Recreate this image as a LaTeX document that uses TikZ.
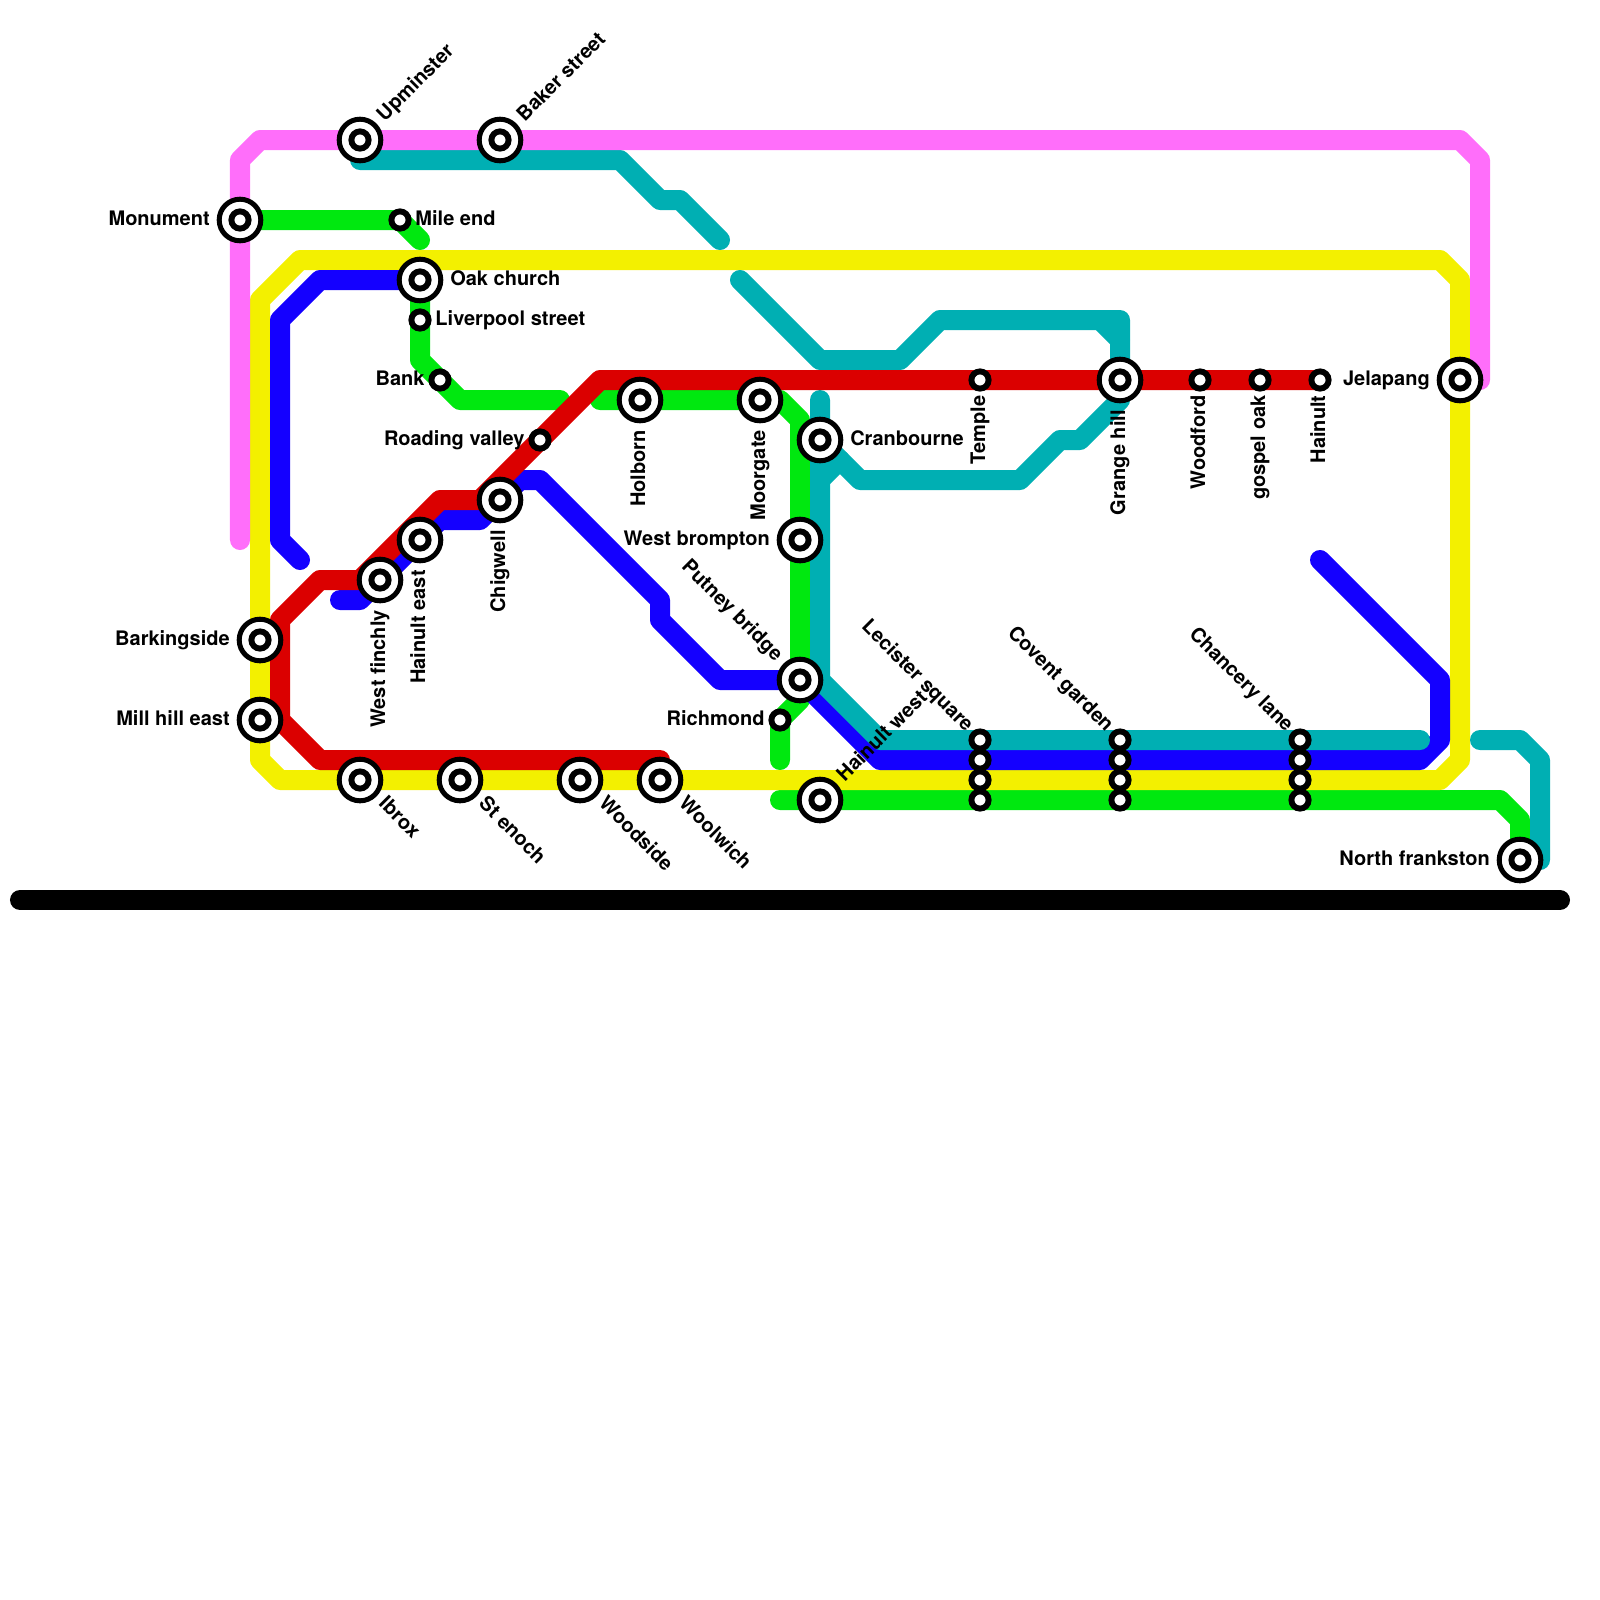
\documentclass[tikz,border=0pt]{standalone}
\usepackage{fontspec}
\setmainfont{TeX Gyre Heros}
\usepackage{xcolor}
\usepackage{tikz}
\usetikzlibrary{backgrounds}
\definecolor{linepink}{HTML}{FF6EFA}
\definecolor{lineteal}{HTML}{00AFB3}
\definecolor{linegreen}{HTML}{00E80F}
\definecolor{lineyellow}{HTML}{F3F000}
\definecolor{lineblue}{HTML}{1400FF}
\definecolor{linered}{HTML}{DB0000}

\begin{document}
\begin{tikzpicture}[
  x=0.5cm, y=-0.5cm,
  metro/.style={line width=14.23pt, line cap=round, line join=round},
  hub/.style={circle, draw=black, fill=white, line width=3.56pt, minimum size=1.04cm, inner sep=0pt},
  stn/.style={circle, draw=black, fill=white, line width=4.2pt, minimum size=0.43cm, inner sep=0pt},
  lbl/.style={inner sep=0pt, font=\fontsize{14.23}{17}\selectfont\bfseries},
  from/.style 2 args={anchor=base west, rotate=#1, xshift=#2, yshift=-0.125cm},
  upto/.style 2 args={anchor=base east, rotate=#1, xshift=-#2, yshift=-0.125cm}
]
  \useasboundingbox (0,0) rectangle (80,80);
  % interchange stations
  \foreach \nm/\x/\y in {upminster/18/7, baker/25/7, monument/12/11, oak/21/14, holborn/32/20,
      moorgate/38/20, cranbourne/41/22, chigwell/25/25, hainulteast/21/27, brompton/40/27,
      finchly/19/29, barkingside/13/32, putney/40/34, millhill/13/36, ibrox/18/39, enoch/23/39,
      woodside/29/39, woolwich/33/39, hainultwest/41/40, grange/56/19, jelapang/73/19, frankston/76/43} {
    \node[hub] (\nm) at (\x,\y) {};
    \node[stn] (\nm c) at (\x,\y) {};
  }
  % plain stations
  \foreach \nm/\x/\y in {mileend/20/11, liverpool/21/16, bank/22/19, roading/27/22, richmond/39/36,
      temple/49/19, woodford/60/19, gospel/63/19, hainult/66/19} {
    \node[stn] (\nm) at (\x,\y) {};
  }
  \foreach \x/\nm in {49/lecister, 56/covent, 65/chancery} {
    \foreach \y/\ln in {37/a, 38/b, 39/c, 40/d} {
      \node[stn] (\nm\ln) at (\x,\y) {};
    }
  }

  \begin{scope}[on background layer]
    \draw[metro, linegreen] (monument.center) -- (mileend.center) -- (21,12);
    \draw[metro, linegreen] (oak.center) -- (21,18) -- (23,20) -- (28,20);
    \draw[metro, linegreen] (30,20) -- (39,20) -- (40,21) -- (40,35) -- (39,36) -- (39,38);
    \draw[metro, linegreen] (39,40) -- (75,40) -- (76,41) -- (frankston.center);
    \draw[metro, lineyellow] (15,13) -- (72,13) -- (73,14) -- (73,38) -- (72,39) -- (14,39) -- (13,38) -- (13,15) -- cycle;
    \draw[metro, lineblue] (15,28) -- (14,27) -- (14,16) -- (16,14) -- (oak.center);
    \draw[metro, lineblue] (17,30) -- (18,30) -- (22,26) -- (24,26) -- (26,24) -- (27,24) -- (33,30) -- (33,31)
      -- (36,34) -- (putney.center) -- (44,38) -- (71,38) -- (72,37) -- (72,34) -- (66,28);
    \draw[metro, lineteal] (18,8) -- (31,8) -- (33,10) -- (34,10) -- (36,12);
    \draw[metro, lineteal] (37,14) -- (41,18) -- (45,18) -- (47,16) -- (56,16) -- (grange.center)
      -- (56,20) -- (54,22) -- (53,22) -- (51,24) -- (43,24) -- (cranbourne.center);
    \draw[metro, lineteal] (55,16) -- (56,17);
    \draw[metro, lineteal] (41,20) -- (41,34) -- (44,37) -- (71,37);
    \draw[metro, lineteal] (42,23) -- (41,24);
    \draw[metro, lineteal] (74,37) -- (76,37) -- (77,38) -- (77,43);
    \draw[metro, linered] (hainult.center) -- (30,19) -- (24,25) -- (22,25) -- (18,29) -- (16,29) -- (14,31)
      -- (14,36) -- (16,38) -- (33,38);
    \draw[metro, linepink] (12,27) -- (12,8) -- (13,7) -- (73,7) -- (74,8) -- (74,19);
    \draw[metro, black] (1,45) -- (78,45);
  \end{scope}

  % labels
  \node[lbl, from={45}{0.75cm}] (upminsterl) at (upminster) {Upminster};
  \node[lbl, from={45}{0.75cm}] (bakerl) at (baker) {Baker street};
  \node[lbl, upto={0}{0.75cm}] (monumentl) at (monument) {Monument};
  \node[lbl, from={0}{0.38cm}] (mileendl) at (mileend) {Mile end};
  \node[lbl, from={0}{0.75cm}] (oakl) at (oak) {Oak church};
  \node[lbl, from={0}{0.38cm}] (liverpooll) at (liverpool) {Liverpool street};
  \node[lbl, upto={0}{0.38cm}] (bankl) at (bank) {Bank};
  \node[lbl, upto={0}{0.38cm}] (roadingl) at (roading) {Roading valley};
  \node[lbl, upto={90}{0.75cm}] (holbornl) at (holborn) {Holborn};
  \node[lbl, upto={90}{0.75cm}] (moorgatel) at (moorgate) {Moorgate};
  \node[lbl, from={0}{0.75cm}] (cranbournel) at (cranbourne) {Cranbourne};
  \node[lbl, upto={90}{0.38cm}] (templel) at (temple) {Temple};
  \node[lbl, upto={90}{0.75cm}] (grangel) at (grange) {Grange hill};
  \node[lbl, upto={90}{0.38cm}] (woodfordl) at (woodford) {Woodford};
  \node[lbl, upto={90}{0.38cm}] (gospell) at (gospel) {gospel oak};
  \node[lbl, upto={90}{0.38cm}] (hainultl) at (hainult) {Hainult};
  \node[lbl, upto={0}{0.75cm}] (jelapangl) at (jelapang) {Jelapang};
  \node[lbl, upto={90}{0.75cm}] (chigwelll) at (chigwell) {Chigwell};
  \node[lbl, upto={90}{0.75cm}] (hainulteastl) at (hainulteast) {Hainult east};
  \node[lbl, upto={90}{0.75cm}] (finchlyl) at (finchly) {West finchly};
  \node[lbl, upto={0}{0.75cm}] (bromptonl) at (brompton) {West brompton};
  \node[lbl, upto={-45}{0.75cm}] (putneyl) at (putney) {Putney bridge};
  \node[lbl, upto={0}{0.38cm}] (richmondl) at (richmond) {Richmond};
  \node[lbl, upto={0}{0.75cm}] (barkingsidel) at (barkingside) {Barkingside};
  \node[lbl, upto={0}{0.75cm}] (millhilll) at (millhill) {Mill hill east};
  \node[lbl, from={-45}{0.75cm}] (ibroxl) at (ibrox) {Ibrox};
  \node[lbl, from={-45}{0.75cm}] (enochl) at (enoch) {St enoch};
  \node[lbl, from={-45}{0.75cm}] (woodsidel) at (woodside) {Woodside};
  \node[lbl, from={-45}{0.75cm}] (woolwichl) at (woolwich) {Woolwich};
  \node[lbl, from={45}{0.75cm}] (hainultwestl) at (hainultwest) {Hainult west};
  \node[lbl, upto={-45}{0.38cm}] (lecisterl) at (lecistera) {Lecister square};
  \node[lbl, upto={-45}{0.38cm}] (coventl) at (coventa) {Covent garden};
  \node[lbl, upto={-45}{0.38cm}] (chanceryl) at (chancerya) {Chancery lane};
  \node[lbl, upto={0}{0.75cm}] (frankstonl) at (frankston) {North frankston};
\end{tikzpicture}
\end{document}
